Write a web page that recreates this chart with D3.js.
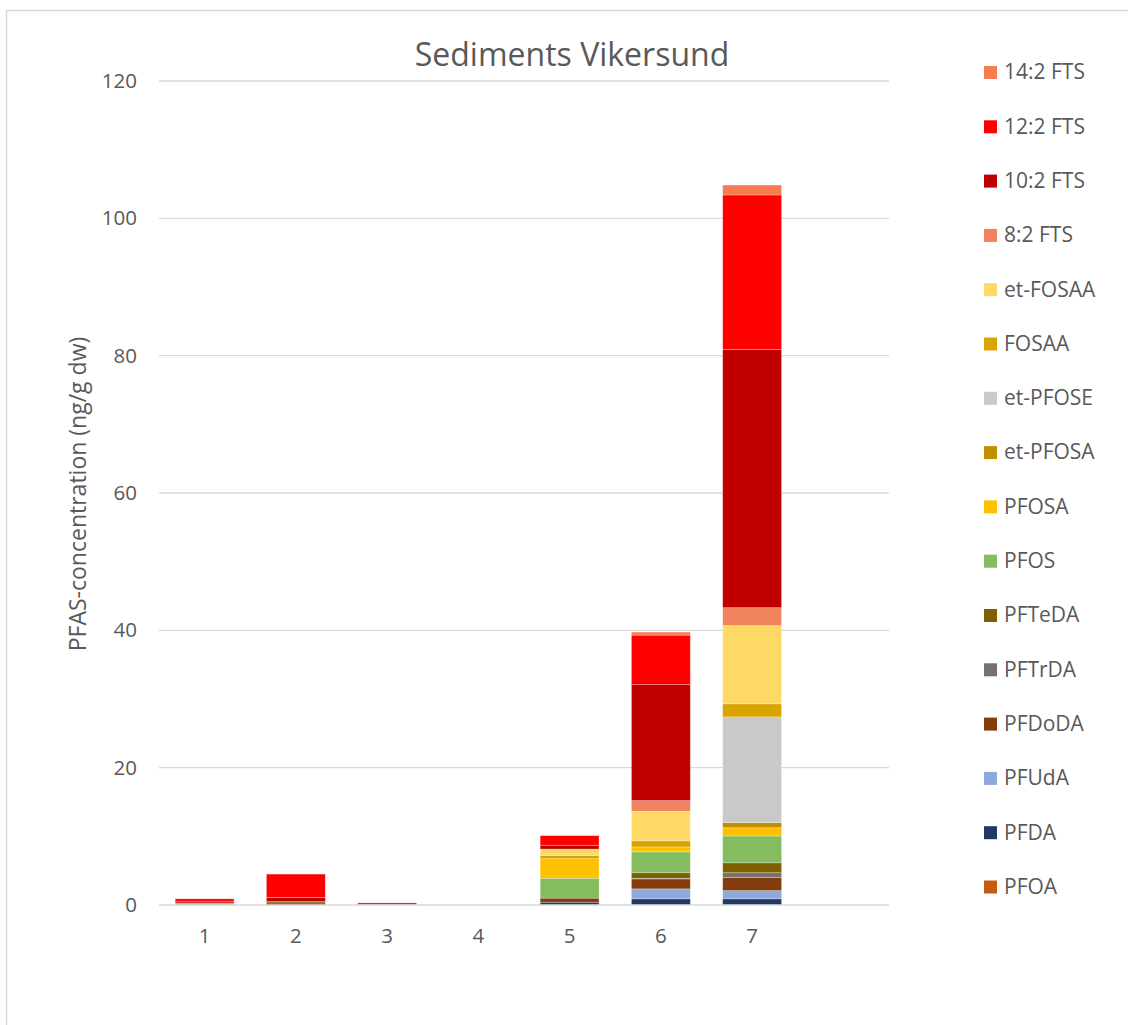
<!DOCTYPE html>
<html>
<head>
<meta charset="utf-8">
<script src="https://cdn.jsdelivr.net/npm/d3@7/dist/d3.min.js"></script>
<style>
  html, body { margin: 0; padding: 0; background: #fff; }
  svg { display: block; font-family: "Open Sans", Lato, sans-serif; }
</style>
</head>
<body>
<svg id="chart" width="1128" height="1025"></svg>
<script>
// Sampling sites (the eighth slot on the axis is left empty)
const sites = ["1", "2", "3", "4", "5", "6", "7", ""];

// Compounds, stacked bottom to top
const compounds = ["PFOA", "PFDA", "PFUdA", "PFDoDA", "PFTrDA", "PFTeDA", "PFOS", "PFOSA",
                   "et-PFOSA", "et-PFOSE", "FOSAA", "et-FOSAA", "8:2 FTS", "10:2 FTS", "12:2 FTS", "14:2 FTS"];

const colors = ["#C55A11", "#203864", "#8EA9DB", "#843C0C", "#767171", "#7F6000", "#83BD60", "#FFC000",
                "#BF9000", "#C9C9C9", "#D9A400", "#FFD966", "#F1825E", "#C00000", "#FF0000", "#F97B52"];

// Concentrations (ng/g dw) per compound, one value per site 1..7
const PFOA      = [0,    0,    0,    0, 0,    0,    0];
const PFDA      = [0,    0,    0,    0, 0.4,  0.9,  0.9];
const PFUdA     = [0,    0,    0,    0, 0,    1.45, 1.2];
const PFDoDA    = [0,    0.3,  0,    0, 0.6,  1.45, 1.9];
const PFTrDA    = [0,    0,    0,    0, 0,    0.1,  0.7];
const PFTeDA    = [0,    0.2,  0,    0, 0,    0.8,  1.45];
const PFOS      = [0.3,  0,    0,    0, 2.9,  3.05, 3.9];
const PFOSA     = [0,    0,    0,    0, 2.95, 0.7,  1.2];
const etPFOSA   = [0,    0,    0,    0, 0.3,  0,    0.75];
const etPFOSE   = [0,    0,    0,    0, 0,    0,    15.4];
const FOSAA     = [0,    0,    0,    0, 0,    0.9,  1.9];
const etFOSAA   = [0,    0,    0,    0, 1.0,  4.3,  11.4];
const FTS8_2    = [0,    0,    0,    0, 0,    1.55, 2.6];
const FTS10_2   = [0.25, 0.6,  0.05, 0, 0.55, 16.9, 37.6];
const FTS12_2   = [0.35, 3.4,  0.25, 0, 1.4,  7.2,  22.5];
const FTS14_2   = [0,    0,    0,    0, 0,    0.45, 1.45];

const seriesValues = [PFOA, PFDA, PFUdA, PFDoDA, PFTrDA, PFTeDA, PFOS, PFOSA,
                      etPFOSA, etPFOSE, FOSAA, etFOSAA, FTS8_2, FTS10_2, FTS12_2, FTS14_2];

const yTicks = [0, 20, 40, 60, 80, 100, 120];

const title = "Sediments Vikersund";
const yTitle = "PFAS-concentration (ng/g dw)";

// Build rows for d3.stack
const rows = sites.slice(0, 7).map((s, i) => {
  const r = { site: s };
  compounds.forEach((c, k) => { r[c] = seriesValues[k][i]; });
  return r;
});

const svg = d3.select("#chart");
const textColor = "#595959";

// Chart frame
svg.append("rect")
  .attr("x", 6.5).attr("y", 10.5)
  .attr("width", 1140).attr("height", 1040)
  .attr("fill", "#fff").attr("stroke", "#D9D9D9").attr("stroke-width", 1.5);

const plot = { left: 159, right: 889, top: 81, bottom: 905 };

const x = d3.scaleBand().domain(sites).range([plot.left, plot.right]).paddingInner(0.355).paddingOuter(0.1775);
const y = d3.scaleLinear().domain([0, 120]).range([plot.bottom, plot.top]);

// Gridlines
svg.append("g")
  .selectAll("line")
  .data(yTicks.filter(d => d > 0))
  .join("line")
  .attr("x1", plot.left).attr("x2", plot.right)
  .attr("y1", d => y(d)).attr("y2", d => y(d))
  .attr("stroke", "#D9D9D9").attr("stroke-width", 1.3);

// Stacked bars
const stack = d3.stack().keys(compounds);
const layers = stack(rows);

svg.append("g")
  .selectAll("g")
  .data(layers)
  .join("g")
  .attr("fill", (d, i) => colors[i])
  .selectAll("rect")
  .data(d => d)
  .join("rect")
  .attr("x", d => x(d.data.site))
  .attr("width", x.bandwidth())
  .attr("y", d => y(d[1]))
  .attr("height", d => Math.max(0, y(d[0]) - y(d[1])))
  .attr("stroke", d => (d[1] - d[0]) > 0 ? "rgba(255,255,255,0.35)" : "none")
  .attr("stroke-width", 0.75);

// Baseline
svg.append("line")
  .attr("x1", plot.left).attr("x2", plot.right)
  .attr("y1", y(0)).attr("y2", y(0))
  .attr("stroke", "#D9D9D9").attr("stroke-width", 1.5);

// Y axis labels
const yAxis = d3.axisLeft(y).tickValues(yTicks).tickSize(0).tickPadding(22);
const yg = svg.append("g").attr("transform", `translate(${plot.left},0)`).call(yAxis);
yg.select(".domain").remove();
yg.selectAll("text").attr("fill", textColor).attr("font-size", 20.5).attr("font-family", "'Open Sans', sans-serif");

// X axis labels
const xAxis = d3.axisBottom(x).tickSize(0).tickPadding(23);
const xg = svg.append("g").attr("transform", `translate(0,${plot.bottom})`).call(xAxis);
xg.select(".domain").remove();
xg.selectAll("text").attr("fill", textColor).attr("font-size", 20.5).attr("font-family", "'Open Sans', sans-serif");

// Title
svg.append("text")
  .attr("x", 572).attr("y", 66)
  .attr("text-anchor", "middle")
  .attr("fill", textColor)
  .attr("font-size", 32)
  .text(title);

// Y axis title
svg.append("text")
  .attr("transform", `translate(86,494) rotate(-90)`)
  .attr("text-anchor", "middle")
  .attr("fill", textColor)
  .attr("font-size", 23)
  .text(yTitle);

// Legend (top entry is the last stacked series)
const legendItems = compounds.map((c, i) => ({ name: c, color: colors[i] })).reverse();
const legend = svg.append("g");
const lg = legend.selectAll("g")
  .data(legendItems)
  .join("g")
  .attr("transform", (d, i) => `translate(984,${72 + i * 54.3})`);
lg.append("rect")
  .attr("x", 0).attr("y", -6).attr("width", 13).attr("height", 13)
  .attr("fill", d => d.color);
lg.append("text")
  .attr("x", 20).attr("y", 0).attr("dy", "0.35em")
  .attr("fill", textColor).attr("font-size", 21)
  .text(d => d.name);
</script>
</body>
</html>
